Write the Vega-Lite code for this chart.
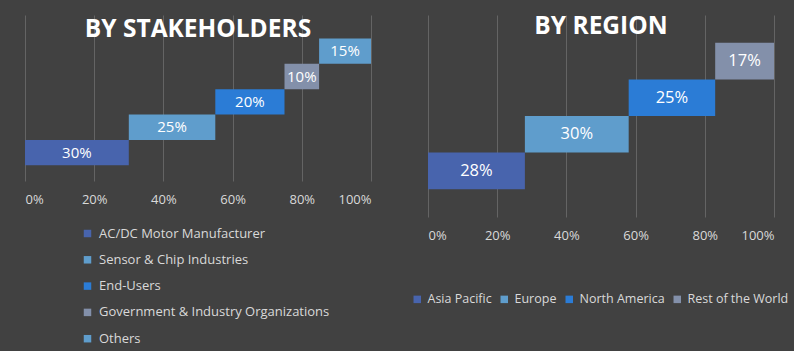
{
  "$schema": "https://vega.github.io/schema/vega-lite/v6.json",
  "background": "#414141",
  "padding": {"left": 25, "top": 13, "right": 5, "bottom": 5},
  "bounds": "flush",
  "spacing": 57,
  "config": {
    "view": {"stroke": null},
    "font": "Open Sans",
    "axis": {
      "grid": true, "gridColor": "#646464", "gridWidth": 1, "domain": false, "ticks": false,
      "labelColor": "#d9d9d9", "labelFontSize": 13, "labelFont": "Open Sans"
    },
    "legend": {
      "labelColor": "#d9d9d9", "labelFontSize": 13, "labelFont": "Open Sans", "labelLimit": 0,
      "symbolType": "square", "symbolSize": 56, "symbolStrokeWidth": 0
    },
    "title": {"color": "#ffffff", "fontSize": 24.5, "fontWeight": "bold", "font": "Open Sans", "anchor": "middle", "baseline": "middle"}
  },
  "resolve": {"scale": {"color": "independent"}, "legend": {"color": "independent"}},
  "hconcat": [
    {
      "width": 346,
      "height": 166,
      "title": {"text": "BY STAKEHOLDERS", "offset": -27},
      "data": {"values": [
        {"name": "AC/DC Motor Manufacturer", "value": 0.30, "order": 1},
        {"name": "Sensor & Chip Industries", "value": 0.25, "order": 2},
        {"name": "End-Users", "value": 0.20, "order": 3},
        {"name": "Government & Industry Organizations", "value": 0.10, "order": 4},
        {"name": "Others", "value": 0.15, "order": 5}
      ]},
      "transform": [
        {"stack": "value", "groupby": [], "sort": [{"field": "order", "order": "ascending"}], "as": ["start", "end"]}
      ],
      "encoding": {
        "y": {"field": "name", "type": "nominal", "axis": null,
          "sort": ["Others", "Government & Industry Organizations", "End-Users", "Sensor & Chip Industries", "AC/DC Motor Manufacturer"],
          "scale": {"paddingInner": 0, "paddingOuter": 0.77, "align": 0.6}}
      },
      "layer": [
        {
          "mark": {"type": "bar"},
          "encoding": {
            "x": {"field": "start", "type": "quantitative", "title": null,
              "scale": {"domain": [0, 1], "nice": false},
              "axis": {"values": [0, 0.2, 0.4, 0.6, 0.8, 1], "format": ".0%", "labelPadding": 12}},
            "x2": {"field": "end"},
            "color": {"field": "name", "type": "nominal", "title": null,
              "scale": {"domain": ["AC/DC Motor Manufacturer", "Sensor & Chip Industries", "End-Users", "Government & Industry Organizations", "Others"],
                "range": ["#4864ad", "#5f9dcc", "#2b7cd6", "#8390aa", "#5f9dcc"]},
              "legend": {"orient": "none", "legendX": 56, "legendY": 212, "direction": "vertical", "rowPadding": 12.3, "labelOffset": 5}}
          }
        },
        {
          "transform": [
            {"fold": ["start", "end"], "as": ["k", "pos"]},
            {"aggregate": [{"op": "mean", "field": "pos", "as": "mid"}], "groupby": ["name", "value"]}
          ],
          "mark": {"type": "text", "color": "#ffffff", "fontSize": 15, "font": "Open Sans"},
          "encoding": {
            "x": {"field": "mid", "type": "quantitative"},
            "text": {"field": "value", "type": "quantitative", "format": ".0%"}
          }
        }
      ]
    },
    {
      "width": 346,
      "height": 202,
      "title": {"text": "BY REGION", "offset": -24},
      "data": {"values": [
        {"region": "Asia Pacific", "value": 0.28, "order": 1},
        {"region": "Europe", "value": 0.30, "order": 2},
        {"region": "North America", "value": 0.25, "order": 3},
        {"region": "Rest of the World", "value": 0.17, "order": 4}
      ]},
      "transform": [
        {"stack": "value", "groupby": [], "sort": [{"field": "order", "order": "ascending"}], "as": ["start", "end"]}
      ],
      "encoding": {
        "y": {"field": "region", "type": "nominal", "axis": null,
          "sort": ["Rest of the World", "North America", "Europe", "Asia Pacific"],
          "scale": {"paddingInner": 0, "paddingOuter": 0.76}}
      },
      "layer": [
        {
          "mark": {"type": "bar"},
          "encoding": {
            "x": {"field": "start", "type": "quantitative", "title": null,
              "scale": {"domain": [0, 1], "nice": false},
              "axis": {"values": [0, 0.2, 0.4, 0.6, 0.8, 1], "format": ".0%", "labelPadding": 12}},
            "x2": {"field": "end"},
            "color": {"field": "region", "type": "nominal", "title": null,
              "scale": {"domain": ["Asia Pacific", "Europe", "North America", "Rest of the World"],
                "range": ["#4864ad", "#5f9dcc", "#2b7cd6", "#8390aa"]},
              "legend": {"orient": "none", "legendX": -17, "legendY": 278, "direction": "horizontal", "columnPadding": 6, "labelOffset": 4, "labelFontSize": 12.5}}
          }
        },
        {
          "transform": [
            {"fold": ["start", "end"], "as": ["k", "pos"]},
            {"aggregate": [{"op": "mean", "field": "pos", "as": "mid"}], "groupby": ["region", "value"]}
          ],
          "mark": {"type": "text", "color": "#ffffff", "fontSize": 16.5, "font": "Open Sans"},
          "encoding": {
            "x": {"field": "mid", "type": "quantitative"},
            "text": {"field": "value", "type": "quantitative", "format": ".0%"}
          }
        }
      ]
    }
  ]
}
